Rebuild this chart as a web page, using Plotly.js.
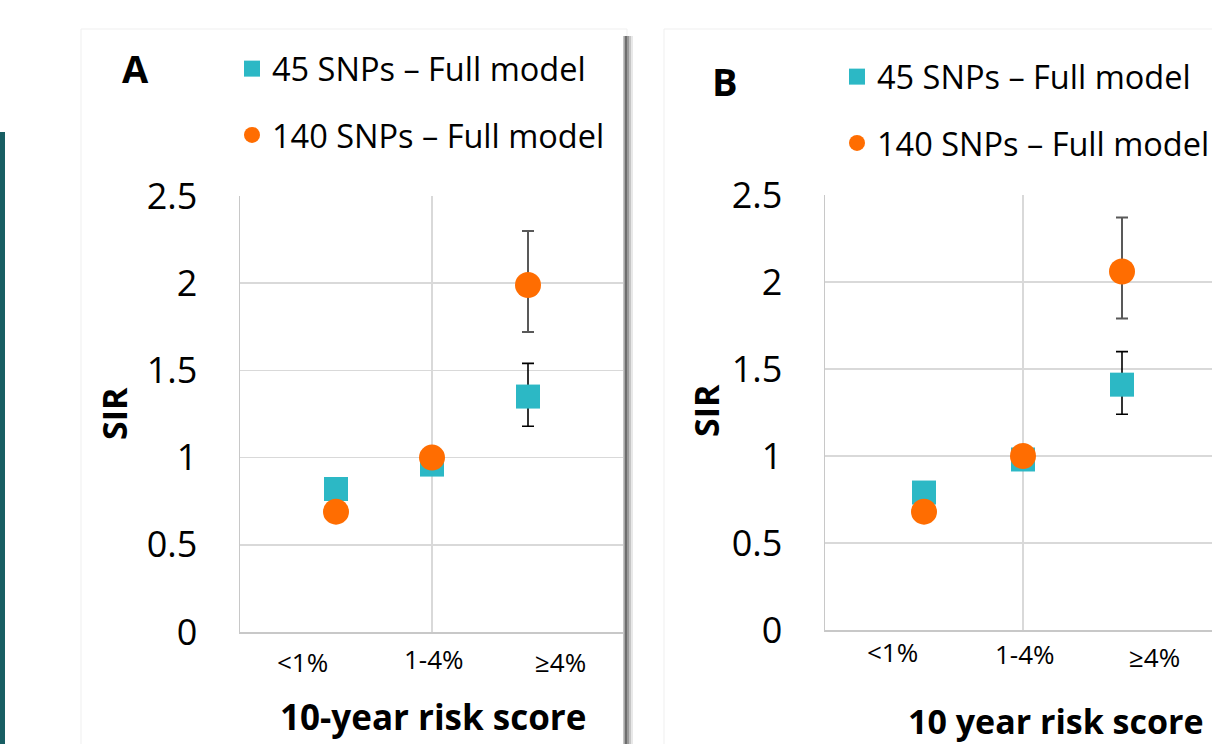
<!DOCTYPE html>
<html>
<head>
<meta charset="utf-8">
<script src="https://cdn.plot.ly/plotly-3.0.1.min.js"></script>
<style>
  html, body { margin: 0; padding: 0; background: #ffffff; }
  #chart { width: 1212px; height: 744px; }
</style>
</head>
<body>
<div id="chart"></div>
<script>
// ---------------- data ----------------
const categories = ['<1%', '1-4%', '≥4%'];
const catPos = [1, 2, 3];

const seriesNames = ['45 SNPs – Full model', '140 SNPs – Full model'];

// Panel A
const sirA45 = [0.82, 0.96, 1.35];
const ciA45Hi = [null, null, 1.54];
const ciA45Lo = [null, null, 1.18];
const sirA140 = [0.69, 1.00, 1.99];
const ciA140Hi = [null, null, 2.30];
const ciA140Lo = [null, null, 1.72];

// Panel B
const sirB45 = [0.79, 0.98, 1.41];
const ciB45Hi = [null, null, 1.60];
const ciB45Lo = [null, null, 1.24];
const sirB140 = [0.68, 1.00, 2.06];
const ciB140Hi = [null, null, 2.37];
const ciB140Lo = [null, null, 1.79];

const yTicks = [0, 0.5, 1, 1.5, 2, 2.5];
const xTitleA = '10-year risk score';
const xTitleB = '10 year risk score';
const yTitle = 'SIR';
const panelLabels = ['A', 'B'];

// ---------------- helpers ----------------
const W = 1212, H = 744;
const px = x => x / W;
const py = y => 1 - y / H;
const FONT = 'Open Sans, Liberation Sans, sans-serif';
const TEAL = '#2CB8C5';
const ORANGE = '#FF6D01';
const GRID = '#D9D9D9';

function upper(hi, y) { return hi.map((h, i) => h == null ? NaN : h - y[i]); }
function lower(lo, y) { return lo.map((l, i) => l == null ? NaN : y[i] - l); }

function sqTrace(y, hi, lo, xa, ya, leg, grp) {
  return {
    type: 'scatter', mode: 'markers', x: catPos, y: y, xaxis: xa, yaxis: ya,
    name: seriesNames[0], legend: leg, legendgroup: grp,
    marker: { symbol: 'square', size: 24, color: TEAL },
    error_y: { type: 'data', symmetric: false, array: upper(hi, y), arrayminus: lower(lo, y),
               color: '#000000', thickness: 1.6, width: 6 },
    hoverinfo: 'skip'
  };
}
function ciTrace(y, hi, lo, xa, ya, leg, grp) {
  return {
    type: 'scatter', mode: 'markers', x: catPos, y: y, xaxis: xa, yaxis: ya,
    name: seriesNames[1], legend: leg, legendgroup: grp,
    marker: { symbol: 'circle', size: 26, color: ORANGE },
    error_y: { type: 'data', symmetric: false, array: upper(hi, y), arrayminus: lower(lo, y),
               color: '#595959', thickness: 2, width: 6 },
    hoverinfo: 'skip'
  };
}

const traces = [
  sqTrace(sirA45, ciA45Hi, ciA45Lo, 'x', 'y', 'legend', 'a1'),
  ciTrace(sirA140, ciA140Hi, ciA140Lo, 'x', 'y', 'legend', 'a2'),
  sqTrace(sirB45, ciB45Hi, ciB45Lo, 'x2', 'y2', 'legend2', 'b1'),
  ciTrace(sirB140, ciB140Hi, ciB140Lo, 'x2', 'y2', 'legend2', 'b2')
];

function xAxis(domain, range, anchor) {
  return {
    domain: domain, range: range, anchor: anchor, tick0: 0, dtick: 2,
    showgrid: true, gridcolor: GRID, gridwidth: 1.5,
    showline: true, linecolor: '#C8C8C8', linewidth: 1.5,
    zeroline: false, showticklabels: false, ticks: '', fixedrange: true
  };
}
function yAxis(domain, anchor) {
  return {
    domain: domain, range: [0, 2.5], anchor: anchor, tickvals: yTicks,
    showgrid: true, gridcolor: GRID, gridwidth: 1.5,
    showline: true, linecolor: '#C8C8C8', linewidth: 1.5,
    zeroline: false, ticks: 'outside', ticklen: 34, tickcolor: 'rgba(0,0,0,0)',
    tickfont: { family: FONT, size: 36, color: '#000000' }, fixedrange: true
  };
}

function legendObj(x, y) {
  return {
    x: x, y: y, xanchor: 'left', yanchor: 'top', bgcolor: 'rgba(0,0,0,0)',
    font: { family: FONT, size: 32.5, color: '#000000' },
    traceorder: 'grouped', tracegroupgap: 21, itemclick: false, itemdoubleclick: false
  };
}

// category label positions (layout offsets, px)
const catLabA = [[302, 662], [434, 659], [560, 662]];
const catLabB = [[893, 652], [1025, 654], [1154, 657]];

const annotations = [];
function txt(text, x, y, size, bold, extra) {
  annotations.push(Object.assign({
    text: bold ? '<b>' + text + '</b>' : text, xref: 'paper', yref: 'paper',
    x: px(x), y: py(y), xanchor: 'center', yanchor: 'middle', showarrow: false,
    font: { family: FONT, size: size, color: '#000000' }
  }, extra || {}));
}
txt(panelLabels[0], 135, 68, 38, true);
txt(panelLabels[1], 725, 81, 38, true);
categories.forEach((c, i) => {
  txt(c, catLabA[i][0], catLabA[i][1], 26, false);
  txt(c, catLabB[i][0], catLabB[i][1], 26, false);
});
txt(xTitleA, 433, 716, 35, true);
txt(xTitleB, 1056, 721, 34, true);
txt(yTitle, 114, 414, 34, true, { textangle: -90 });
txt(yTitle, 706, 411, 34, true, { textangle: -90 });

const shapes = [
  // teal side bar
  { type: 'rect', xref: 'paper', yref: 'paper', x0: 0, x1: px(5), y0: 0, y1: py(132),
    fillcolor: '#185E63', line: { width: 0 }, layer: 'below' },
  // card A
  { type: 'rect', xref: 'paper', yref: 'paper', x0: px(81), x1: px(627), y0: -0.01, y1: py(29),
    fillcolor: '#FFFFFF', line: { color: '#EFEFEF', width: 1 }, layer: 'below' },
  // card B
  { type: 'rect', xref: 'paper', yref: 'paper', x0: px(664), x1: 1.01, y0: -0.01, y1: py(29),
    fillcolor: '#FFFFFF', line: { color: '#EFEFEF', width: 1 }, layer: 'below' },
];
// shadow of card A (right edge)
[[623, 624.5, '#C4C4C4'], [624.5, 627, '#6E6E6E'], [627, 629, '#9A9A9A'], [629, 631, '#C6C6C6'], [631, 633, '#E8E8E8']]
  .forEach(s => shapes.push({ type: 'rect', xref: 'paper', yref: 'paper', x0: px(s[0]), x1: px(s[1]),
    y0: -0.01, y1: py(36), fillcolor: s[2], line: { width: 0 }, layer: 'above' }));

const layout = {
  width: W, height: H, margin: { l: 0, r: 0, t: 0, b: 0, autoexpand: false },
  paper_bgcolor: '#FFFFFF', plot_bgcolor: 'rgba(0,0,0,0)',
  showlegend: true,
  xaxis: xAxis([px(240), px(624)], [0, 4], 'y'),
  yaxis: yAxis([py(632), py(196)], 'x'),
  xaxis2: xAxis([px(825), 1], [0, (W - 825) / 99], 'y2'),
  yaxis2: yAxis([py(630), py(195)], 'x2'),
  legend: legendObj(px(232), py(41)),
  legend2: legendObj(px(837), py(49)),
  annotations: annotations,
  shapes: shapes
};

Plotly.newPlot('chart', traces, layout, { displayModeBar: false, staticPlot: true });
</script>
</body>
</html>
